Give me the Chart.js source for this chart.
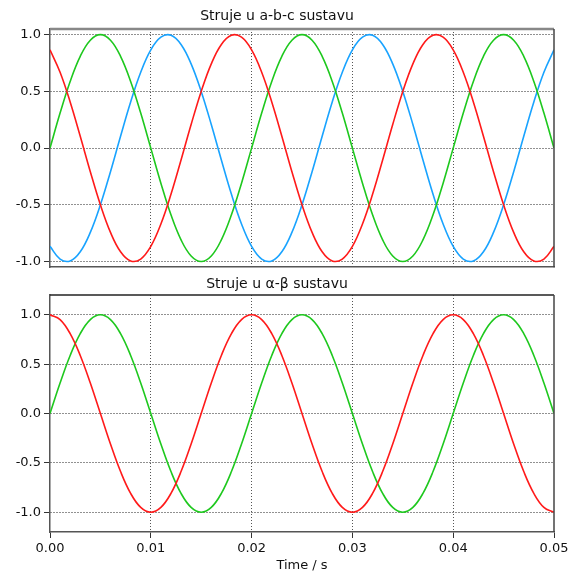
<!DOCTYPE html>
<html>
<head>
<meta charset="utf-8">
<script src="https://cdn.jsdelivr.net/npm/chart.js@4/dist/chart.umd.min.js"></script>
<style>
  html, body { margin: 0; padding: 0; background: #fff; }
  #top { position: absolute; left: 0; top: 0; width: 576px; height: 278px; }
  #bottom { position: absolute; left: 0; top: 272px; width: 576px; height: 301px; }
</style>
</head>
<body>
<div id="top"><canvas id="abcChart"></canvas></div>
<div id="bottom"><canvas id="alphaBetaChart"></canvas></div>
<script>
// sample times [s]
const time = [
  0.000, 0.001, 0.002, 0.003, 0.004, 0.005, 0.006, 0.007, 0.008, 0.009,
  0.010, 0.011, 0.012, 0.013, 0.014, 0.015, 0.016, 0.017, 0.018, 0.019,
  0.020, 0.021, 0.022, 0.023, 0.024, 0.025, 0.026, 0.027, 0.028, 0.029,
  0.030, 0.031, 0.032, 0.033, 0.034, 0.035, 0.036, 0.037, 0.038, 0.039,
  0.040, 0.041, 0.042, 0.043, 0.044, 0.045, 0.046, 0.047, 0.048, 0.049,
  0.050
];

// a-b-c currents (top plot)
const phaseRed = [
  0.866, 0.669, 0.407, 0.105, -0.208, -0.500, -0.743, -0.914, -0.995, -0.978,
  -0.866, -0.669, -0.407, -0.105, 0.208, 0.500, 0.743, 0.914, 0.995, 0.978,
  0.866, 0.669, 0.407, 0.105, -0.208, -0.500, -0.743, -0.914, -0.995, -0.978,
  -0.866, -0.669, -0.407, -0.105, 0.208, 0.500, 0.743, 0.914, 0.995, 0.978,
  0.866, 0.669, 0.407, 0.105, -0.208, -0.500, -0.743, -0.914, -0.995, -0.978,
  -0.866
];
const phaseGreen = [
  0.000, 0.309, 0.588, 0.809, 0.951, 1.000, 0.951, 0.809, 0.588, 0.309,
  0.000, -0.309, -0.588, -0.809, -0.951, -1.000, -0.951, -0.809, -0.588, -0.309,
  0.000, 0.309, 0.588, 0.809, 0.951, 1.000, 0.951, 0.809, 0.588, 0.309,
  0.000, -0.309, -0.588, -0.809, -0.951, -1.000, -0.951, -0.809, -0.588, -0.309,
  0.000, 0.309, 0.588, 0.809, 0.951, 1.000, 0.951, 0.809, 0.588, 0.309,
  0.000
];
const phaseBlue = [
  -0.866, -0.978, -0.995, -0.914, -0.743, -0.500, -0.208, 0.105, 0.407, 0.669,
  0.866, 0.978, 0.995, 0.914, 0.743, 0.500, 0.208, -0.105, -0.407, -0.669,
  -0.866, -0.978, -0.995, -0.914, -0.743, -0.500, -0.208, 0.105, 0.407, 0.669,
  0.866, 0.978, 0.995, 0.914, 0.743, 0.500, 0.208, -0.105, -0.407, -0.669,
  -0.866, -0.978, -0.995, -0.914, -0.743, -0.500, -0.208, 0.105, 0.407, 0.669,
  0.866
];

// alpha-beta currents (bottom plot)
const alphaRed = [
  1.000, 0.951, 0.809, 0.588, 0.309, 0.000, -0.309, -0.588, -0.809, -0.951,
  -1.000, -0.951, -0.809, -0.588, -0.309, 0.000, 0.309, 0.588, 0.809, 0.951,
  1.000, 0.951, 0.809, 0.588, 0.309, 0.000, -0.309, -0.588, -0.809, -0.951,
  -1.000, -0.951, -0.809, -0.588, -0.309, 0.000, 0.309, 0.588, 0.809, 0.951,
  1.000, 0.951, 0.809, 0.588, 0.309, 0.000, -0.309, -0.588, -0.809, -0.951,
  -1.000
];
const betaGreen = [
  0.000, 0.309, 0.588, 0.809, 0.951, 1.000, 0.951, 0.809, 0.588, 0.309,
  0.000, -0.309, -0.588, -0.809, -0.951, -1.000, -0.951, -0.809, -0.588, -0.309,
  0.000, 0.309, 0.588, 0.809, 0.951, 1.000, 0.951, 0.809, 0.588, 0.309,
  0.000, -0.309, -0.588, -0.809, -0.951, -1.000, -0.951, -0.809, -0.588, -0.309,
  0.000, 0.309, 0.588, 0.809, 0.951, 1.000, 0.951, 0.809, 0.588, 0.309,
  0.000
];

const xTicks = [0, 0.01, 0.02, 0.03, 0.04, 0.05];
const yTicks = [-1.0, -0.5, 0.0, 0.5, 1.0];
const titleTop = 'Struje u a-b-c sustavu';
const titleBottom = 'Struje u α-β sustavu';
const xLabel = 'Time / s';

const RED = '#ff1a1a', GREEN = '#1ec81e', BLUE = '#19a3ff';
const FONT = "'DejaVu Sans', sans-serif";
Chart.defaults.font.family = FONT;
Chart.defaults.color = '#111';

// frame around the plot area (top and right edges)
const framePlugin = {
  id: 'frame',
  afterDraw(chart, args, opts) {
    const { ctx, chartArea: a } = chart;
    ctx.save();
    ctx.lineWidth = opts.topWidth;
    ctx.strokeStyle = opts.topColor;
    ctx.beginPath();
    ctx.moveTo(a.left, a.top);
    ctx.lineTo(a.right, a.top);
    ctx.stroke();
    ctx.lineWidth = 1.5;
    ctx.strokeStyle = '#444';
    ctx.beginPath();
    ctx.moveTo(a.right, a.top);
    ctx.lineTo(a.right, a.bottom);
    ctx.stroke();
    ctx.restore();
  }
};

function series(values, color) {
  return {
    data: values.map((v, i) => ({ x: time[i], y: v })),
    borderColor: color,
    borderWidth: 1.6,
    pointRadius: 0,
    fill: false,
    tension: 0.4
  };
}

function makeChart(id, title, titlePad, datasets, yRange, showX, frameOpts, xAxisHeight) {
  return new Chart(document.getElementById(id), {
    type: 'line',
    data: { datasets },
    plugins: [framePlugin],
    options: {
      responsive: true,
      maintainAspectRatio: false,
      animation: false,
      layout: { padding: { left: 0, right: 22, top: 0, bottom: 0 } },
      plugins: {
        legend: { display: false },
        tooltip: { enabled: false },
        title: {
          display: true,
          text: title,
          color: '#111',
          font: { size: 14, weight: 'normal' },
          padding: titlePad
        },
        frame: frameOpts
      },
      scales: {
        x: {
          type: 'linear',
          min: 0,
          max: 0.05,
          afterBuildTicks: s => { s.ticks = xTicks.map(v => ({ value: v })); },
          afterFit: s => { s.height = xAxisHeight; },
          ticks: {
            display: showX,
            padding: 3,
            font: { size: 13 },
            callback: v => v.toFixed(2)
          },
          grid: {
            color: c => (c.tick && (c.tick.value === 0 || c.tick.value === 0.05)) ? 'rgba(0,0,0,0)' : '#555',
            lineWidth: 1,
            drawTicks: showX,
            tickLength: 6,
            tickColor: '#333'
          },
          border: { display: true, color: '#555', width: 1.5, dash: [1, 2] },
          title: {
            display: showX,
            text: xLabel,
            color: '#111',
            font: { size: 13 },
            padding: { top: 2, bottom: 0 }
          }
        },
        y: {
          min: yRange[0],
          max: yRange[1],
          afterBuildTicks: s => { s.ticks = yTicks.map(v => ({ value: v })); },
          afterFit: s => { s.width = 50; },
          ticks: {
            padding: 3,
            font: { size: 13 },
            callback: v => v.toFixed(1)
          },
          grid: {
            color: '#222',
            lineWidth: 1,
            tickLength: 6,
            tickColor: '#333'
          },
          border: { display: true, color: '#555', width: 1.5, dash: [1, 2] }
        }
      }
    }
  });
}

makeChart('abcChart', titleTop, { top: 8, bottom: 4.2 },
  [series(phaseRed, RED), series(phaseGreen, GREEN), series(phaseBlue, BLUE)],
  [-1.05, 1.05], false, { topColor: '#888', topWidth: 2.5 }, 6);

makeChart('alphaBetaChart', titleBottom, { top: 4, bottom: 2.2 },
  [series(alphaRed, RED), series(betaGreen, GREEN)],
  [-1.2, 1.2], true, { topColor: '#222', topWidth: 1.5 }, 41);
</script>
</body>
</html>
